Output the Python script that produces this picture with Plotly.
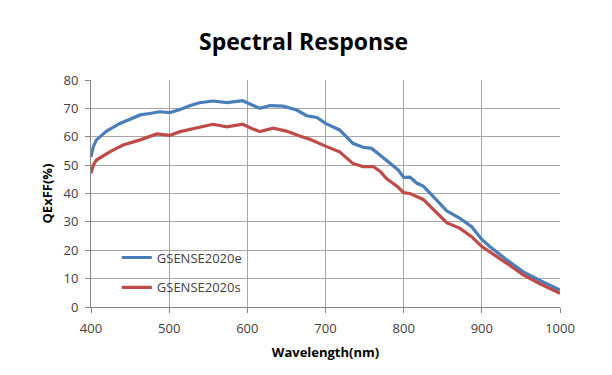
import plotly.graph_objects as go

wl_e = [400, 403, 407, 420, 437, 450, 463, 475, 488, 501, 514, 527, 539, 556, 574, 594, 605, 616, 629, 646, 663, 676, 689, 700, 718, 735, 748, 759, 770, 778, 793, 800, 808, 817, 825, 838, 855, 872, 887, 900, 910, 932, 953, 975, 1000]
qe_e = [52.9, 56.5, 58.9, 62.0, 64.7, 66.3, 67.7, 68.2, 68.8, 68.5, 69.6, 71.0, 72.0, 72.6, 72.0, 72.7, 71.5, 70.0, 71.0, 70.8, 69.4, 67.4, 66.8, 64.7, 62.4, 57.7, 56.3, 55.9, 53.5, 51.8, 48.3, 45.7, 45.8, 43.6, 42.6, 38.9, 33.9, 31.2, 28.3, 23.8, 21.3, 16.6, 12.4, 9.3, 6.0]

wl_s = [400, 403, 407, 424, 441, 463, 484, 501, 514, 527, 539, 556, 574, 594, 605, 616, 633, 650, 667, 680, 700, 718, 735, 748, 761, 770, 778, 793, 800, 808, 825, 838, 855, 872, 887, 900, 910, 932, 953, 975, 1000]
qe_s = [47.1, 50.0, 51.8, 54.7, 57.1, 58.9, 61.0, 60.5, 61.8, 62.6, 63.5, 64.4, 63.5, 64.4, 63.0, 61.8, 63.0, 62.0, 60.3, 59.1, 56.7, 54.7, 50.6, 49.5, 49.5, 47.8, 45.3, 42.2, 40.3, 40.0, 37.9, 34.2, 29.7, 27.7, 24.8, 21.3, 19.5, 15.4, 11.3, 8.1, 4.8]

x_ticks = [400, 500, 600, 700, 800, 900, 1000]
y_ticks = [0, 10, 20, 30, 40, 50, 60, 70, 80]

FONT = "Open Sans"

fig = go.Figure()
fig.add_trace(go.Scatter(x=wl_e, y=qe_e, mode="lines", name="GSENSE2020e",
                         line=dict(color="#4A7EBB", width=3.2), legendgroup="e"))
fig.add_trace(go.Scatter(x=wl_s, y=qe_s, mode="lines", name="GSENSE2020s",
                         line=dict(color="#BE4B48", width=3.2), legendgroup="s"))

# white box behind the legend (hides the grid there, as in the reference)
fig.add_shape(type="rect", xref="paper", yref="paper",
              x0=0.004, x1=0.397, y0=0.04, y1=0.273,
              fillcolor="white", line=dict(width=0), layer="between")

fig.update_layout(
    width=612, height=375,
    paper_bgcolor="white", plot_bgcolor="white",
    margin=dict(l=83, r=60, t=72, b=76, autoexpand=False),
    title=dict(text="<b>Spectral Response</b>", x=0.483, xanchor="center",
               y=1 - 34 / 375, yanchor="middle",
               font=dict(family=FONT, size=23, color="black")),
    font=dict(family=FONT, size=13, color="#404040"),
    showlegend=True,
    legend=dict(x=0.055, y=0.284, xanchor="left", yanchor="top",
                bgcolor="rgba(0,0,0,0)", borderwidth=0,
                font=dict(family=FONT, size=13, color="#404040"),
                traceorder="grouped", tracegroupgap=10),
    xaxis=dict(range=[400, 1000], tickvals=x_ticks, showgrid=True,
               gridcolor="#A6A6A6", gridwidth=1, showline=True,
               linecolor="#868686", linewidth=1, ticks="outside", ticklen=5,
               tickcolor="#868686", zeroline=False, ticklabelstandoff=4,
               automargin=False,
               title=dict(text="<b>Wavelength(nm)</b>", standoff=12,
                          font=dict(family=FONT, size=13, color="black"))),
    yaxis=dict(range=[0, 80], tickvals=y_ticks, showgrid=True,
               gridcolor="#A6A6A6", gridwidth=1, showline=True,
               linecolor="#868686", linewidth=1, ticks="outside", ticklen=5,
               tickcolor="#868686", zeroline=False, ticklabelstandoff=4,
               automargin=False,
               title=dict(text="<b>QExFF(%)</b>", standoff=7,
                          font=dict(family=FONT, size=13, color="black"))),
)

fig.write_html("out.html")
